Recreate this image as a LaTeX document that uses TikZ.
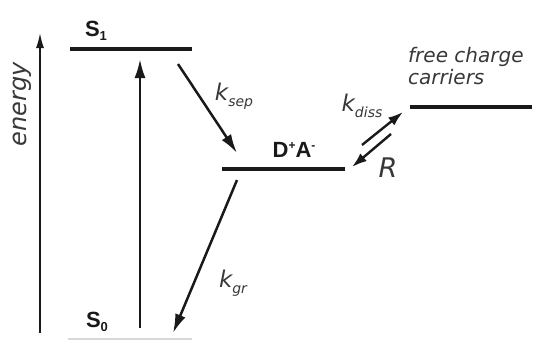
\documentclass[tikz,border=0pt]{standalone}
\usepackage{fontspec}
\setmainfont{DejaVu Sans}
\newfontfamily\boldsans{Liberation Sans}
\usetikzlibrary{arrows.meta}
\tikzset{
  level/.style={line width=3.8bp, black!90},
  faintlevel/.style={line width=1.5bp, black!15},
  trans/.style={line width=2.5bp, black!90, -{Latex[length=19bp,width=11bp]}},
  shorttrans/.style={line width=2.4bp, black!90, -{Latex[length=15bp,width=10bp]}},
  axis/.style={line width=1.6bp, black!90, -{Latex[length=15bp,width=8bp]}},
  lab/.style={inner sep=0pt, font=\fontsize{20bp}{24bp}\selectfont\itshape, text=black!78},
  statelab/.style={inner sep=0pt, text=black!90, font=\boldsans\bfseries\fontsize{22bp}{24bp}\selectfont}
}
\newcommand{\ksub}[1]{{\fontsize{23bp}{26bp}\selectfont\itshape k}\raisebox{-0.5ex}{\fontsize{14bp}{16bp}\selectfont\itshape #1}}
\begin{document}
\begin{tikzpicture}[x=1bp,y=-1bp]
\useasboundingbox (0,0) rectangle (533,340);
% levels
\coordinate (S1l) at (70,49);  \coordinate (S1r) at (192,49);
\coordinate (DAl) at (222,169); \coordinate (DAr) at (345,169);
\coordinate (FCl) at (410,107); \coordinate (FCr) at (532,107);
\coordinate (S0l) at (68,339); \coordinate (S0r) at (192,339);
\draw[level] (S1l) -- (S1r);
\draw[level] (DAl) -- (DAr);
\draw[level] (FCl) -- (FCr);
\draw[faintlevel] (S0l) -- (S0r);
% labels
\node[statelab] (S1) at (96,31) {S\raisebox{-0.35ex}{\fontsize{13bp}{14bp}\selectfont 1}};
\node[statelab] (S0) at (97,322) {S\raisebox{-0.35ex}{\fontsize{13bp}{14bp}\selectfont 0}};
\node[statelab] (DA) at (294,150) {D\raisebox{0.75ex}{\fontsize{12bp}{14bp}\selectfont +}A\raisebox{0.75ex}{\fontsize{12bp}{14bp}\selectfont -}};
\node[lab, anchor=base west] (free) at (408,62) {free charge};
\node[lab, anchor=base west] (carr) at (408,84) {carriers};
\node[lab, rotate=90, anchor=base, font=\fontsize{24bp}{28bp}\selectfont\itshape] (en) at (26,104) {energy};
% energy axis
\coordinate (Ea) at (40,333); \coordinate (Eb) at (40,33);
\draw[axis] (Ea) -- (Eb);
% transitions
\coordinate (ex0) at (140,328); \coordinate (ex1) at (140,59);
\draw[trans] (ex0) -- (ex1);
\coordinate (sep0) at (178,64); \coordinate (sep1) at (237,153);
\draw[trans] (sep0) -- (sep1);
\coordinate (gr0) at (237,180); \coordinate (gr1) at (173,333);
\draw[trans] (gr0) -- (gr1);
\coordinate (di0) at (362,145); \coordinate (di1) at (403,112);
\draw[shorttrans] (di0) -- (di1);
\coordinate (r0) at (391,134); \coordinate (r1) at (352,167);
\draw[shorttrans] (r0) -- (r1);
% rate labels
\node[lab] (ksep) at (234,96) {\ksub{sep}};
\node[lab] (kgr) at (233,283) {\ksub{gr}};
\node[lab] (kdiss) at (362,106) {\ksub{diss}};
\node[lab, font=\fontsize{27bp}{30bp}\selectfont\itshape] (R) at (388,168) {R};
\end{tikzpicture}
\end{document}
